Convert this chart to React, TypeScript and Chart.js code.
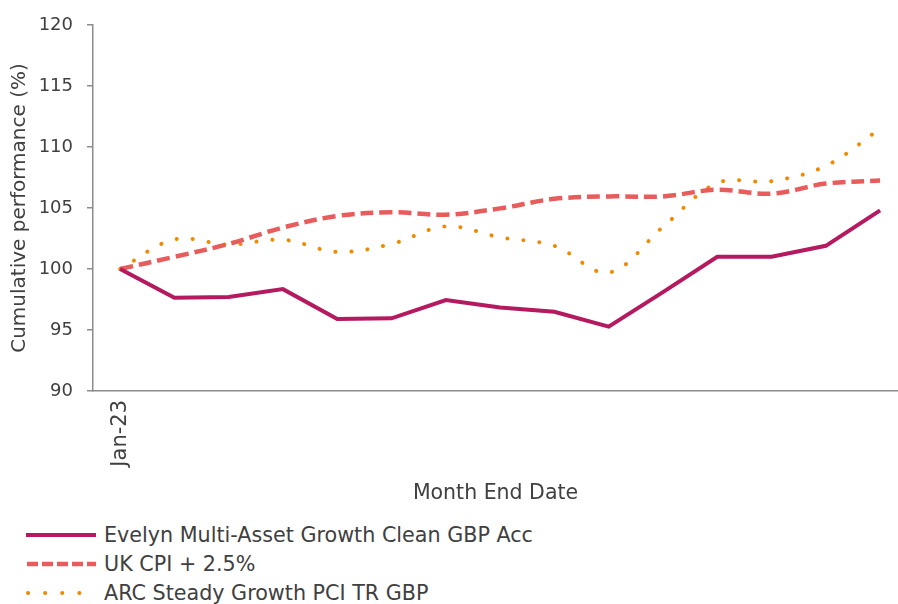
import React, { useEffect, useRef } from "react";
import { Chart, registerables } from "chart.js";

Chart.register(...registerables);

const months = [
  "Jan-23", "Feb-23", "Mar-23", "Apr-23", "May-23", "Jun-23", "Jul-23", "Aug-23",
  "Sep-23", "Oct-23", "Nov-23", "Dec-23", "Jan-24", "Feb-24", "Mar-24",
];
const shownTickLabels = ["Jan-23"];
const evelynValues = [100, 97.65, 97.7, 98.35, 95.9, 95.96, 97.45, 96.85, 96.5, 95.27, 98.1, 101.0, 101.0, 101.9, 104.8];
const cpiValues = [100, 101.0, 102.05, 103.4, 104.35, 104.65, 104.45, 104.97, 105.75, 105.95, 105.95, 106.5, 106.17, 107.0, 107.25];
const arcValues = [100, 102.43, 102.0, 102.4, 101.4, 102.05, 103.5, 102.6, 101.9, 99.7, 103.45, 107.05, 107.2, 108.45, 111.5];

const seriesNames = [
  "Evelyn Multi-Asset Growth Clean GBP Acc",
  "UK CPI + 2.5%",
  "ARC Steady Growth PCI TR GBP",
];
const colors = ["#B5195F", "#E85C5C", "#F08A00"];
const yTitle = "Cumulative performance (%)";
const xTitle = "Month End Date";

const FONT = "'DejaVu Sans', sans-serif";
const TEXT = "#404040";
const AXIS = "#8C8C8C";

const toPoints = (vals: number[]) => vals.map((y, i) => ({ x: i, y }));

export default function App() {
  const ref = useRef<HTMLCanvasElement | null>(null);

  useEffect(() => {
    if (!ref.current) return;
    const chart = new Chart(ref.current, {
      type: "line",
      data: {
        datasets: [
          {
            label: seriesNames[0],
            data: toPoints(evelynValues),
            borderColor: colors[0],
            backgroundColor: colors[0],
            borderWidth: 4,
            pointRadius: 0,
            tension: 0,
          },
          {
            label: seriesNames[1],
            data: toPoints(cpiValues),
            borderColor: colors[1],
            backgroundColor: colors[1],
            borderWidth: 4.5,
            borderDash: [13, 6],
            pointRadius: 0,
            tension: 0.35,
          },
          {
            label: seriesNames[2],
            data: toPoints(arcValues),
            borderColor: colors[2],
            backgroundColor: colors[2],
            borderWidth: 4,
            borderDash: [0.1, 16],
            borderCapStyle: "round",
            pointRadius: 0,
            tension: 0.35,
          },
        ],
      },
      options: {
        animation: false,
        responsive: false,
        layout: { padding: { top: 25, right: 0, left: 0, bottom: 0 } },
        plugins: { legend: { display: false }, tooltip: { enabled: false } },
        scales: {
          x: {
            type: "linear",
            min: -0.5,
            max: months.length - 1 + 0.33,
            grid: { display: true, drawOnChartArea: false, drawTicks: false, color: AXIS },
            border: { display: true, color: AXIS, width: 1.5 },
            afterBuildTicks: (s: any) => {
              s.ticks = shownTickLabels.map((l) => ({ value: months.indexOf(l) }));
            },
            ticks: {
              autoSkip: false,
              minRotation: 90,
              maxRotation: 90,
              padding: 9,
              color: TEXT,
              font: { family: FONT, size: 21 },
              callback: (v: any) => months[Math.round(Number(v))] ?? "",
            },
            title: {
              display: true,
              text: xTitle,
              color: TEXT,
              font: { family: FONT, size: 20.5 },
              padding: { top: 4, bottom: 4 },
            },
            afterFit: (s: any) => {
              s.height = 119;
            },
          },
          y: {
            min: 90,
            max: 120,
            grid: { display: true, drawOnChartArea: false, drawTicks: true, tickLength: 6, color: AXIS, lineWidth: 1.5 },
            border: { display: true, color: AXIS, width: 1.5 },
            ticks: {
              stepSize: 5,
              padding: 14,
              color: TEXT,
              font: { family: FONT, size: 18 },
            },
            title: {
              display: true,
              text: yTitle,
              color: TEXT,
              font: { family: FONT, size: 20 },
              padding: { top: 8, bottom: 0 },
            },
            afterFit: (s: any) => {
              s.width = 93;
            },
          },
        },
      },
    });
    return () => chart.destroy();
  }, []);

  const legendRow = (i: number) => {
    let line: React.ReactNode;
    if (i === 0) {
      line = <line x1={0} y1={6} x2={70} y2={6} stroke={colors[0]} strokeWidth={4} />;
    } else if (i === 1) {
      line = <line x1={1} y1={6} x2={70} y2={6} stroke={colors[1]} strokeWidth={4.5} strokeDasharray="11 4" />;
    } else {
      line = (
        <line x1={2} y1={6} x2={70} y2={6} stroke={colors[2]} strokeWidth={4} strokeDasharray="0.1 17" strokeLinecap="round" />
      );
    }
    return (
      <div key={i} style={{ display: "flex", alignItems: "center", height: 29 }}>
        <svg width={72} height={12} style={{ marginLeft: 26, marginRight: 6, display: "block" }}>
          {line}
        </svg>
        <span style={{ fontFamily: FONT, fontSize: 20.7, color: TEXT, whiteSpace: "nowrap" }}>{seriesNames[i]}</span>
      </div>
    );
  };

  return (
    <div style={{ position: "absolute", left: 0, top: 0, width: 898, height: 604, background: "#fff", overflow: "hidden" }}>
      <canvas ref={ref} width={898} height={510} style={{ display: "block" }} />
      <div style={{ position: "absolute", left: 0, top: 520 }}>{[0, 1, 2].map(legendRow)}</div>
    </div>
  );
}
